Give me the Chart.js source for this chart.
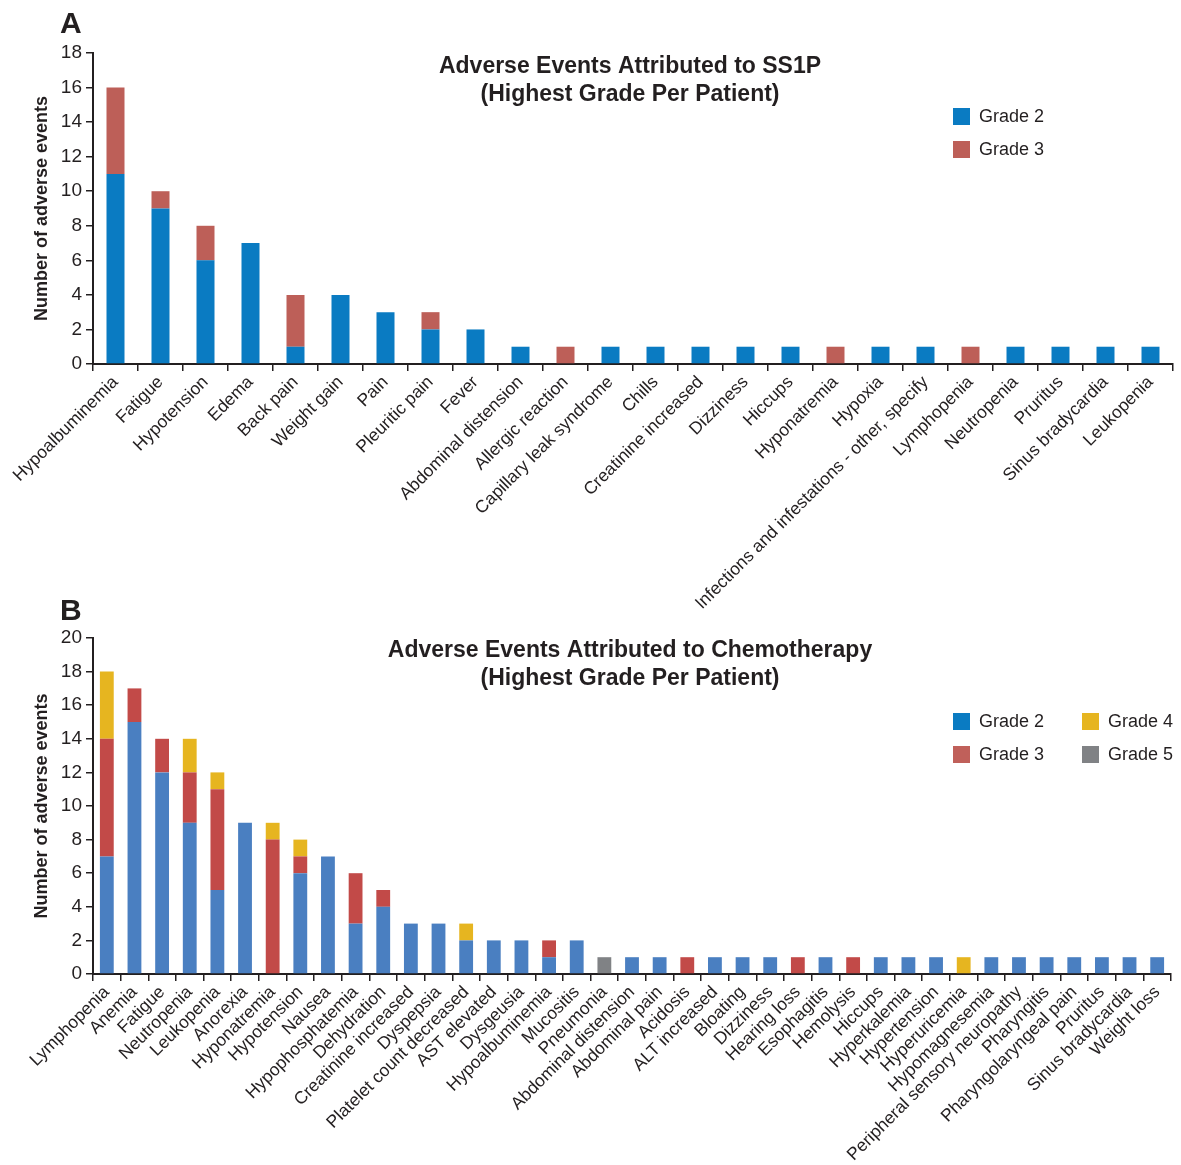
<!DOCTYPE html>
<html>
<head>
<meta charset="utf-8">
<script src="https://cdn.jsdelivr.net/npm/chart.js@4.4.1/dist/chart.umd.min.js"></script>
<style>
  html, body { margin: 0; padding: 0; background: #ffffff; }
  #wrap { position: relative; width: 1181px; height: 1165px; overflow: hidden; background: #ffffff; }
  canvas { position: absolute; left: 0; }
  #chartA { top: 0; }
  #chartB { top: 590px; }
</style>
</head>
<body>
<div id="wrap">
  <canvas id="chartA" width="1181" height="625"></canvas>
  <canvas id="chartB" width="1181" height="575"></canvas>
</div>
<script>
// ---- Panel A: adverse events attributed to SS1P ----
const ss1pEvents = [
  'Hypoalbuminemia', 'Fatigue', 'Hypotension', 'Edema', 'Back pain', 'Weight gain',
  'Pain', 'Pleuritic pain', 'Fever', 'Abdominal distension', 'Allergic reaction',
  'Capillary leak syndrome', 'Chills', 'Creatinine increased', 'Dizziness', 'Hiccups',
  'Hyponatremia', 'Hypoxia', 'Infections and infestations - other, specify',
  'Lymphopenia', 'Neutropenia', 'Pruritus', 'Sinus bradycardia', 'Leukopenia'
];
const ss1pGrade2 = [11, 9, 6, 7, 1, 4, 3, 2, 2, 1, 0, 1, 1, 1, 1, 1, 0, 1, 1, 0, 1, 1, 1, 1];
const ss1pGrade3 = [5, 1, 2, 0, 3, 0, 0, 1, 0, 0, 1, 0, 0, 0, 0, 0, 1, 0, 0, 1, 0, 0, 0, 0];
const ss1pYMax = 18;

// ---- Panel B: adverse events attributed to chemotherapy ----
const chemoEvents = [
  'Lymphopenia', 'Anemia', 'Fatigue', 'Neutropenia', 'Leukopenia', 'Anorexia',
  'Hyponatremia', 'Hypotension', 'Nausea', 'Hypophosphatemia', 'Dehydration',
  'Creatinine increased', 'Dyspepsia', 'Platelet count decreased', 'AST elevated',
  'Dysgeusia', 'Hypoalbuminemia', 'Mucositis', 'Pneumonia', 'Abdominal distension',
  'Abdominal pain', 'Acidosis', 'ALT increased', 'Bloating', 'Dizziness', 'Hearing loss',
  'Esophagitis', 'Hemolysis', 'Hiccups', 'Hyperkalemia', 'Hypertension', 'Hyperuricemia',
  'Hypomagnesemia', 'Peripheral sensory neuropathy', 'Pharyngitis',
  'Pharyngolaryngeal pain', 'Pruritus', 'Sinus bradycardia', 'Weight loss'
];
const chemoGrade2 = [7, 15, 12, 9, 5, 9, 0, 6, 7, 3, 4, 3, 3, 2, 2, 2, 1, 2, 0, 1, 1, 0, 1, 1, 1, 0, 1, 0, 1, 1, 1, 0, 1, 1, 1, 1, 1, 1, 1];
const chemoGrade3 = [7, 2, 2, 3, 6, 0, 8, 1, 0, 3, 1, 0, 0, 0, 0, 0, 1, 0, 0, 0, 0, 1, 0, 0, 0, 1, 0, 1, 0, 0, 0, 0, 0, 0, 0, 0, 0, 0, 0];
const chemoGrade4 = [4, 0, 0, 2, 1, 0, 1, 1, 0, 0, 0, 0, 0, 1, 0, 0, 0, 0, 0, 0, 0, 0, 0, 0, 0, 0, 0, 0, 0, 0, 0, 1, 0, 0, 0, 0, 0, 0, 0];
const chemoGrade5 = [0, 0, 0, 0, 0, 0, 0, 0, 0, 0, 0, 0, 0, 0, 0, 0, 0, 0, 1, 0, 0, 0, 0, 0, 0, 0, 0, 0, 0, 0, 0, 0, 0, 0, 0, 0, 0, 0, 0];
const chemoYMax = 20;

const INK = '#231f20';
const FONT = '"Liberation Sans", Arial, Helvetica, sans-serif';

// Panel letter, two-line title and a grid legend drawn over the plot
function panelDecor(opts) {
  return {
    id: 'panelDecor',
    afterDraw(chart) {
      const ctx = chart.ctx;
      ctx.save();
      ctx.fillStyle = INK;
      ctx.font = 'bold 30px ' + FONT;
      ctx.textAlign = 'left';
      ctx.textBaseline = 'alphabetic';
      ctx.fillText(opts.letter, 60, opts.letterY);

      ctx.font = 'bold 23px ' + FONT;
      ctx.textAlign = 'center';
      ctx.textBaseline = 'middle';
      opts.title.forEach((line, i) => ctx.fillText(line, opts.titleX, opts.titleY + i * 28));

      ctx.font = '18px ' + FONT;
      ctx.textAlign = 'left';
      chart.data.datasets.forEach((ds, i) => {
        const col = Math.floor(i / opts.legendRows);
        const row = i % opts.legendRows;
        const x = opts.legendX + col * 129;
        const y = opts.legendY + row * 33;
        ctx.fillStyle = ds.legendColor || ds.backgroundColor;
        ctx.fillRect(x, y - 8.5, 17, 17);
        ctx.fillStyle = INK;
        ctx.fillText(ds.label, x + 26, y + 1);
      });
      ctx.restore();
    }
  };
}

function makeChart(canvas, labels, datasets, yMax, area, decor) {
  return new Chart(canvas, {
    type: 'bar',
    data: { labels, datasets },
    options: {
      responsive: false,
      animation: false,
      layout: { padding: { top: area.top, right: canvas.width - area.right, left: 0, bottom: 0 } },
      plugins: { legend: { display: false }, tooltip: { enabled: false } },
      datasets: { bar: { categoryPercentage: 1, barPercentage: area.bar } },
      scales: {
        x: {
          stacked: true,
          grid: { display: true, drawOnChartArea: false, drawTicks: true, tickLength: 7, color: INK, lineWidth: 1.5, offset: true },
          border: { display: true, color: INK, width: 2 },
          ticks: { autoSkip: false, maxRotation: 45, minRotation: 45, color: INK, font: { family: FONT, size: 17.5 }, padding: 1 },
          afterFit(s) { s.height = canvas.height - area.bottom; }
        },
        y: {
          stacked: true,
          min: 0,
          max: yMax,
          ticks: { stepSize: 2, color: INK, font: { family: FONT, size: 19 }, padding: 4 },
          grid: { display: true, drawOnChartArea: false, drawTicks: true, tickLength: 7, color: INK, lineWidth: 1.5 },
          border: { display: true, color: INK, width: 2 },
          title: {
            display: true, text: 'Number of adverse events', color: INK,
            font: { family: FONT, size: 18, weight: 'bold' }, padding: { top: 31, bottom: 0 }
          },
          afterFit(s) { s.width = area.left; }
        }
      }
    },
    plugins: [decor]
  });
}

makeChart(
  document.getElementById('chartA'),
  ss1pEvents,
  [
    { label: 'Grade 2', data: ss1pGrade2, backgroundColor: '#0a7bc2' },
    { label: 'Grade 3', data: ss1pGrade3, backgroundColor: '#bd5f58' }
  ],
  ss1pYMax,
  { left: 93, right: 1173, top: 53, bottom: 364, bar: 0.4 },
  panelDecor({
    letter: 'A', letterY: 33,
    title: ['Adverse Events Attributed to SS1P', '(Highest Grade Per Patient)'],
    titleX: 630, titleY: 67,
    legendX: 953, legendY: 116.5, legendRows: 2
  })
);

makeChart(
  document.getElementById('chartB'),
  chemoEvents,
  [
    { label: 'Grade 2', data: chemoGrade2, backgroundColor: '#4a7fc1', legendColor: '#0a7bc2' },
    { label: 'Grade 3', data: chemoGrade3, backgroundColor: '#c24a48', legendColor: '#c0605a' },
    { label: 'Grade 4', data: chemoGrade4, backgroundColor: '#e6b520' },
    { label: 'Grade 5', data: chemoGrade5, backgroundColor: '#808285' }
  ],
  chemoYMax,
  { left: 93, right: 1171, top: 48, bottom: 384, bar: 0.5 },
  panelDecor({
    letter: 'B', letterY: 30,
    title: ['Adverse Events Attributed to Chemotherapy', '(Highest Grade Per Patient)'],
    titleX: 630, titleY: 61,
    legendX: 953, legendY: 131.5, legendRows: 2
  })
);
</script>
</body>
</html>
